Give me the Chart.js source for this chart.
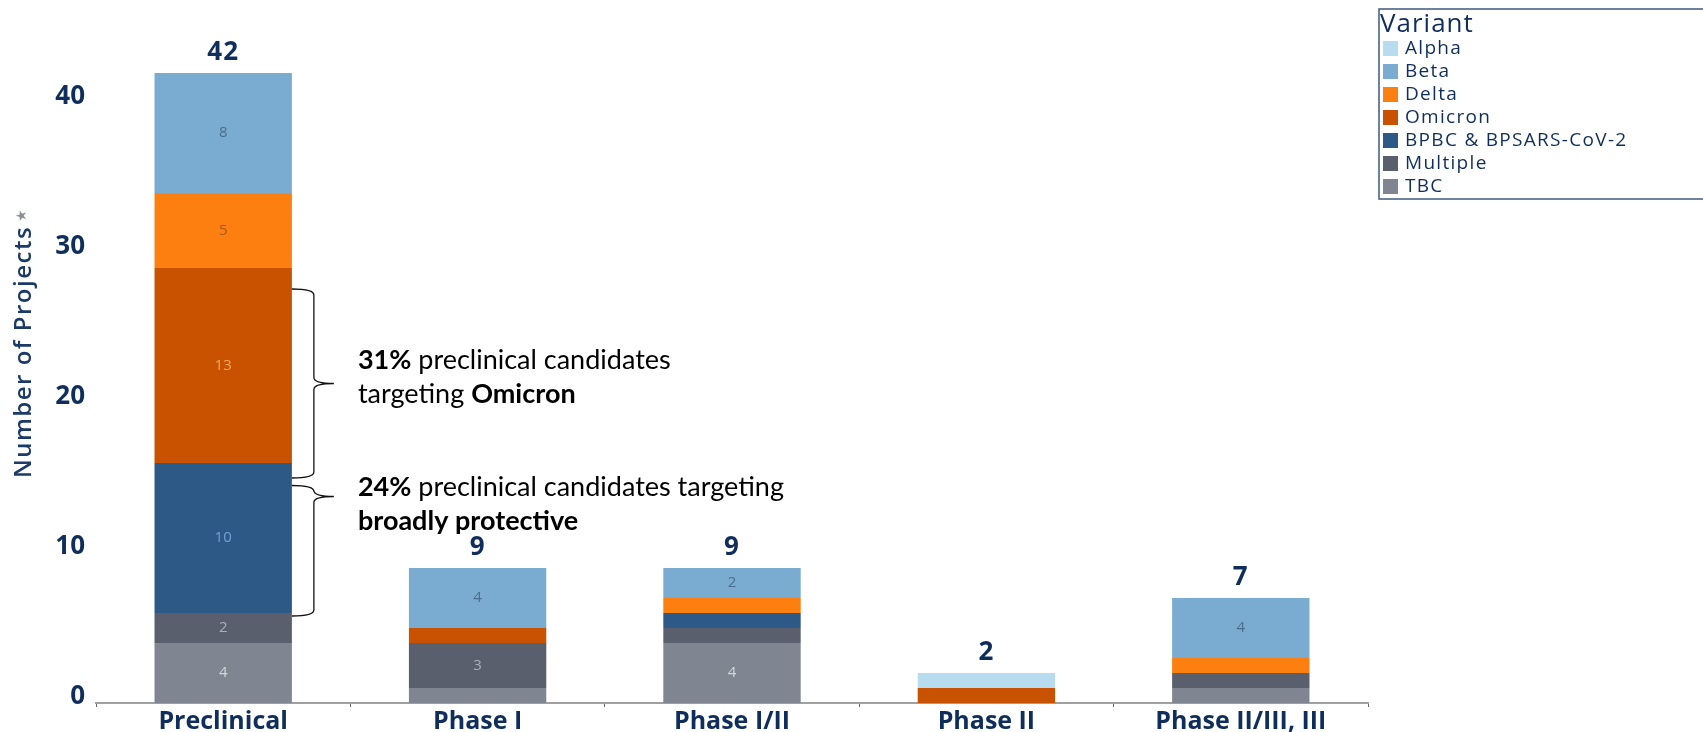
<!DOCTYPE html>
<html>
<head>
<meta charset="utf-8">
<script src="https://cdn.jsdelivr.net/npm/chart.js@4"></script>
<style>
    html, body { margin: 0; padding: 0; background: #fff; }
    #wrap { width: 1703px; height: 732px; position: relative; }
</style>
</head>
<body>
<div id="wrap"><canvas id="variantChart" width="1703" height="732"></canvas></div>
<script>
const categories = ['Preclinical', 'Phase I', 'Phase I/II', 'Phase II', 'Phase II/III, III']
const yTicks = [0, 10, 20, 30, 40]

// stacked bottom to top: TBC first, Alpha last
const tbc = [4, 1, 4, 0, 1]
const multiple = [2, 3, 1, 0, 1]
const bpbc = [10, 0, 1, 0, 0]
const omicron = [13, 1, 0, 1, 0]
const delta = [5, 0, 1, 0, 1]
const beta = [8, 4, 2, 0, 4]
const alpha = [0, 0, 0, 1, 0]

const navy = '#0f2e5c'
const chartFont = "'Open Sans', sans-serif"
const noteFont = "'Lato', sans-serif"

const series = [
    { label: 'TBC', data: tbc, color: '#7f8591', text: '#d3d7dd' },
    { label: 'Multiple', data: multiple, color: '#595f6c', text: '#a9b0bc' },
    { label: 'BPBC & BPSARS-CoV-2', data: bpbc, color: '#2c5985', text: '#6fa2d6' },
    { label: 'Omicron', data: omicron, color: '#c85200', text: '#f7a35e' },
    { label: 'Delta', data: delta, color: '#fd7f10', text: '#a8581a' },
    { label: 'Beta', data: beta, color: '#7aabd0', text: '#4c6d8f' },
    { label: 'Alpha', data: alpha, color: '#b7dcf0', text: '#6d8ea6' },
]

// segment numbers, bar totals, braces with notes, y title and the legend box
const overlay = {
    id: 'overlay',
    afterDatasetsDraw(chart) {
        const { ctx, scales: { x, y } } = chart
        ctx.save()

        // numbers inside the segments (only those of 2 or more)
        ctx.textAlign = 'center'
        ctx.textBaseline = 'middle'
        ctx.font = `15px ${chartFont}`
        series.forEach((s, di) => {
            const meta = chart.getDatasetMeta(di)
            meta.data.forEach((bar, i) => {
                if (s.data[i] >= 2) {
                    ctx.fillStyle = s.text
                    ctx.fillText(String(s.data[i]), bar.x, (bar.y + bar.base) / 2)
                }
            })
        })

        // totals above each bar
        ctx.font = `bold 26px ${chartFont}`
        ctx.letterSpacing = '1px'
        ctx.fillStyle = navy
        categories.forEach((c, i) => {
            const total = series.reduce((a, s) => a + s.data[i], 0)
            ctx.fillText(String(total), x.getPixelForValue(i), y.getPixelForValue(total) - 20)
        })
        ctx.letterSpacing = '0px'

        // braces beside the preclinical bar
        const barMeta = chart.getDatasetMeta(0).data[0]
        const bx = barMeta.x + barMeta.width / 2
        const drawBrace = (yTop, yBot, yTip) => {
            const sx = bx + 22, tx = bx + 42, r = 6
            ctx.beginPath()
            ctx.moveTo(bx, yTop)
            ctx.quadraticCurveTo(sx, yTop, sx, yTop + r)
            ctx.lineTo(sx, yTip - r)
            ctx.quadraticCurveTo(sx, yTip, tx, yTip)
            ctx.quadraticCurveTo(sx, yTip, sx, yTip + r)
            ctx.lineTo(sx, yBot - r)
            ctx.quadraticCurveTo(sx, yBot, bx, yBot)
            ctx.strokeStyle = '#111'
            ctx.lineWidth = 1.3
            ctx.stroke()
        }
        const omTop = y.getPixelForValue(27.6), omBot = y.getPixelForValue(15.0)
        drawBrace(omTop, omBot, (omTop + omBot) / 2)
        const bpTop = y.getPixelForValue(14.5), bpBot = y.getPixelForValue(5.8)
        drawBrace(bpTop, bpBot, bpTop + 11)

        const noteX = bx + 66
        const drawRuns = (runs, ny) => {
            let nx = noteX
            ctx.textAlign = 'left'
            runs.forEach(([txt, bold]) => {
                ctx.font = `${bold ? 'bold ' : ''}27px ${noteFont}`
                ctx.fillStyle = '#000'
                ctx.fillText(txt, nx, ny)
                nx += ctx.measureText(txt).width
            })
        }
        drawRuns([['31%', true], [' preclinical candidates', false]], 360)
        drawRuns([['targeting ', false], ['Omicron', true]], 394)
        drawRuns([['24%', true], [' preclinical candidates targeting', false]], 487)
        drawRuns([['broadly protective', true]], 521)

        // y axis title with its marker
        ctx.save()
        ctx.translate(24, 352)
        ctx.rotate(-Math.PI / 2)
        ctx.textAlign = 'center'
        ctx.font = `600 24px ${chartFont}`
        ctx.letterSpacing = '1.5px'
        ctx.fillStyle = '#1b3a68'
        ctx.fillText('Number of Projects', 0, 0)
        const tw = ctx.measureText('Number of Projects').width
        ctx.letterSpacing = '0px'
        ctx.font = `14px ${chartFont}`
        ctx.fillStyle = '#8a8f98'
        ctx.fillText('\u2605', tw / 2 + 10, -2)
        ctx.restore()

        // legend box, top right
        const lx = 1379, ly = 9
        ctx.strokeStyle = '#3d5a80'
        ctx.lineWidth = 1.5
        ctx.strokeRect(lx, ly, 340, 190)
        ctx.textAlign = 'left'
        ctx.font = `26px ${chartFont}`
        ctx.letterSpacing = '1px'
        ctx.fillStyle = navy
        ctx.fillText('Variant', lx + 1, ly + 16)
        ctx.font = `19px ${chartFont}`
        ctx.letterSpacing = '1.3px'
        series.slice().reverse().forEach((s, k) => {
            const iy = ly + 39 + k * 23
            ctx.fillStyle = s.color
            ctx.fillRect(lx + 4, iy - 7, 15, 15)
            ctx.fillStyle = navy
            ctx.fillText(s.label, lx + 26, iy + 1)
        })
        ctx.letterSpacing = '0px'

        ctx.restore()
    }
}

const data = {
    labels: categories,
    datasets: series.map(s => ({
        label: s.label,
        data: s.data,
        backgroundColor: s.color,
        borderWidth: 0,
        barPercentage: 0.54,
        categoryPercentage: 1,
    }))
}

const config = {
    type: 'bar',
    data: data,
    options: {
        responsive: false,
        animation: false,
        layout: {
            padding: { top: 28, right: 335, left: 0, bottom: 0 }
        },
        scales: {
            x: {
                stacked: true,
                afterFit: (scale) => { scale.height = 29 },
                grid: {
                    display: true,
                    drawOnChartArea: false,
                    tickLength: 4,
                    color: '#666',
                },
                border: { color: '#a0a0a0', width: 2 },
                ticks: {
                    color: navy,
                    padding: 0,
                    font: { size: 25, weight: 'bold', family: chartFont }
                }
            },
            y: {
                stacked: true,
                min: 0,
                max: 45,
                afterFit: (scale) => { scale.width = 96 },
                afterBuildTicks: (scale) => { scale.ticks = yTicks.map(v => ({ value: v })) },
                grid: { display: false, drawTicks: false },
                border: { display: false },
                ticks: {
                    color: navy,
                    padding: 11,
                    labelOffset: -6,
                    font: { size: 26, weight: 'bold', family: chartFont }
                }
            }
        },
        plugins: {
            legend: { display: false },
            tooltip: { enabled: false }
        }
    },
    plugins: [overlay]
}

new Chart(document.getElementById('variantChart'), config)
</script>
</body>
</html>
